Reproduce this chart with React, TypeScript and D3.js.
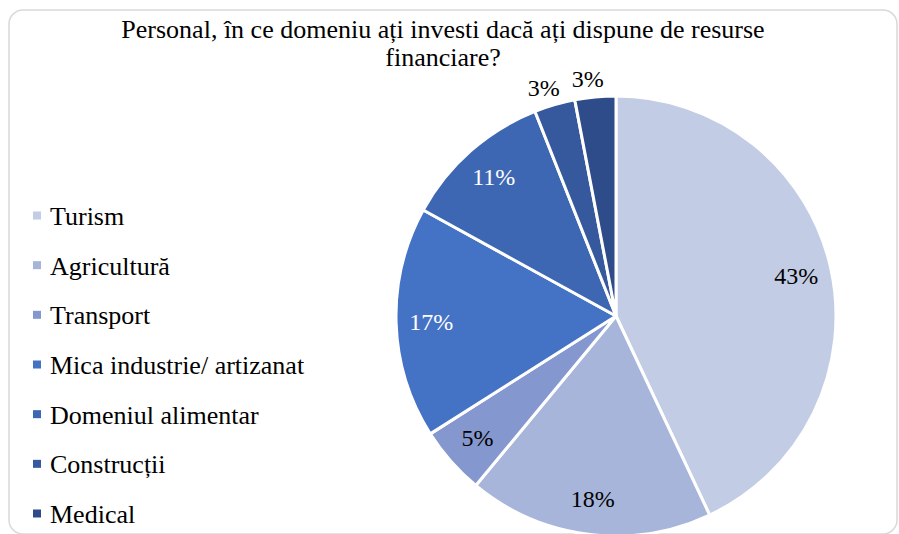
import React from "react";
import * as d3 from "d3";

const categories = [
  "Turism",
  "Agricultură",
  "Transport",
  "Mica industrie/ artizanat",
  "Domeniul alimentar",
  "Construcții",
  "Medical",
];
const values = [43, 18, 5, 17, 11, 3, 3];
const colors = ["#C2CCE5", "#A7B5DA", "#8497CF", "#4472C4", "#3E67B3", "#36599E", "#2F4C8A"];
const labelColors = ["#000", "#000", "#000", "#fff", "#fff", "#000", "#000"];
const outsideLabel = [false, false, false, false, false, true, true];
const titleLines = ["Personal, în ce domeniu ați investi dacă ați dispune de resurse", "financiare?"];

const W = 899;
const H = 534;
const FONT = "'Liberation Serif', 'Times New Roman', serif";

export default function App() {
  const cx = 616;
  const cy = 316;
  const R = 220;

  const pie = d3.pie<number>().sort(null).value((d) => d);
  const arcs = pie(values);
  const arcGen = d3.arc<d3.PieArcDatum<number>>().innerRadius(0).outerRadius(R);
  const inLabel = d3.arc<d3.PieArcDatum<number>>().innerRadius(R * 0.84).outerRadius(R * 0.84);
  const outLabel = d3.arc<d3.PieArcDatum<number>>().innerRadius(R * 1.08).outerRadius(R * 1.08);

  // legend baselines
  const legendY = d3.scalePoint<string>().domain(categories).range([225, 523]);

  return (
    <div style={{ position: "fixed", left: 0, top: 0 }}>
      <svg width={W} height={H} style={{ display: "block", fontFamily: FONT }}>
        <rect x={0} y={0} width={W} height={H} fill="#fff" />
        <rect x={9} y={10} width={888} height={524} rx={14} ry={14} fill="#fff" stroke="#D9D9D9" strokeWidth={1.5} />
        {titleLines.map((t, i) => (
          <text key={i} x={443} y={38 + i * 28} textAnchor="middle" fontSize={26} fill="#000">
            {t}
          </text>
        ))}
        <g transform={`translate(${cx},${cy})`}>
          {arcs.map((a, i) => (
            <path key={i} d={arcGen(a) ?? ""} fill={colors[i]} stroke="#fff" strokeWidth={3} strokeLinejoin="round" />
          ))}
          {arcs.map((a, i) => {
            const [x, y] = (outsideLabel[i] ? outLabel : inLabel).centroid(a);
            return (
              <text key={i} x={outsideLabel[i] ? x - 6 : x} y={y + 8} textAnchor="middle" fontSize={24} fill={labelColors[i]}>
                {`${values[i]}%`}
              </text>
            );
          })}
        </g>
        <g>
          {categories.map((c, i) => {
            const y = legendY(c) ?? 0;
            return (
              <g key={c}>
                <rect x={33} y={y - 13.5} width={8} height={8} fill={colors[i]} />
                <text x={50} y={y} fontSize={26} fill="#000">
                  {c}
                </text>
              </g>
            );
          })}
        </g>
      </svg>
    </div>
  );
}
